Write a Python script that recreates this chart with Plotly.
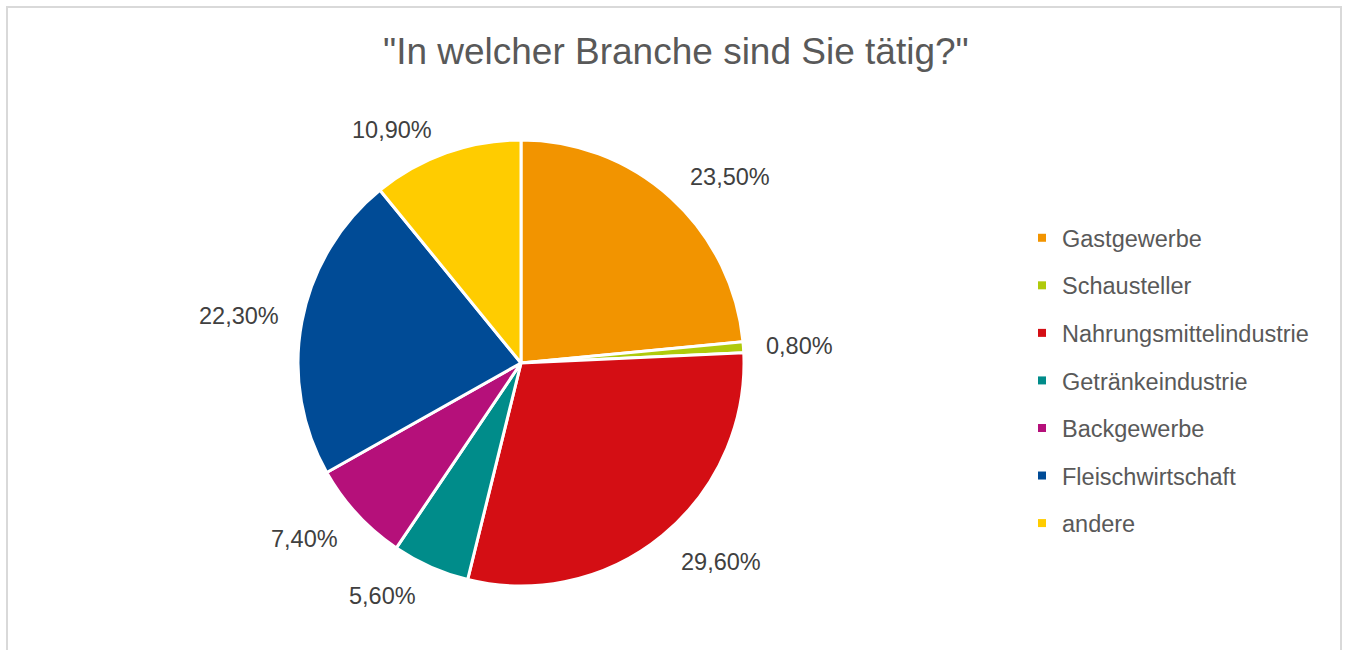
import math
import plotly.graph_objects as go

# Survey answers: share of respondents per industry (percent)
categories = ["Gastgewerbe", "Schausteller", "Nahrungsmittelindustrie",
              "Getränkeindustrie", "Backgewerbe", "Fleischwirtschaft", "andere"]
shares = [23.5, 0.8, 29.6, 5.6, 7.4, 22.3, 10.9]
colors = ["#F29400", "#AFCA0B", "#D40E14", "#008C8A", "#B5107A", "#004B96", "#FFCC00"]
title_text = '"In welcher Branche sind Sie tätig?"'

W, H = 1345, 650
FONT = "Liberation Sans, Arial, sans-serif"

# pie placement in pixels
cx, cy, r = 521, 363, 223

fig = go.Figure()
fig.add_trace(go.Pie(
    labels=categories,
    values=shares,
    marker=dict(colors=colors, line=dict(color="white", width=3)),
    sort=False,
    direction="clockwise",
    rotation=0,
    textinfo="none",
    hoverinfo="label+percent",
    showlegend=False,
    domain=dict(x=[(cx - r) / W, (cx + r) / W],
                y=[1 - (cy + r) / H, 1 - (cy - r) / H]),
))

# legend entries (one group each so the rows get extra spacing)
for name, col in zip(categories, colors):
    fig.add_trace(go.Scatter(
        x=[None], y=[None], mode="markers", name=name, legendgroup=name,
        marker=dict(symbol="square", size=8, color=col),
        showlegend=True, hoverinfo="skip",
    ))


def clip(v):
    return max(-1.0, min(1.0, v))


# data labels outside each slice, placed along the slice's mid angle
total = sum(shares)
annotations = []
acc = 0.0
R_lab = 236
for v in shares:
    mid = (acc + v / 2) / total * 2 * math.pi
    acc += v
    dx, dy = math.sin(mid), -math.cos(mid)
    txt = f"{v:.2f}".replace(".", ",") + "%"
    hw = 6.65 * len(txt)
    px = cx + R_lab * dx + (hw + 10) * clip(dx * 3)
    py = cy + R_lab * dy + 12 * clip(dy * 2) + 1 + 5 * max(dy, 0.0)
    annotations.append(dict(
        x=px / W, y=1 - py / H, xref="paper", yref="paper",
        text=txt, showarrow=False, xanchor="center", yanchor="middle",
        font=dict(family=FONT, size=23.5, color="#404040"),
    ))

annotations.append(dict(
    x=675.5 / W, y=1 - 52 / H, xref="paper", yref="paper",
    text=title_text, showarrow=False, xanchor="center", yanchor="middle",
    font=dict(family=FONT, size=37, color="#595959"),
))

fig.update_layout(
    width=W, height=H,
    margin=dict(l=0, r=0, t=0, b=0),
    paper_bgcolor="white", plot_bgcolor="white",
    xaxis=dict(visible=False), yaxis=dict(visible=False),
    annotations=annotations,
    legend=dict(
        x=1022 / W, y=1 - 216 / H, xanchor="left", yanchor="top",
        font=dict(family=FONT, size=23.5, color="#595959"),
        tracegroupgap=14, traceorder="grouped",
        bgcolor="rgba(0,0,0,0)",
    ),
    shapes=[dict(
        type="rect", xref="paper", yref="paper",
        x0=7 / W, x1=1341 / W, y0=-0.2, y1=1 - 7 / H,
        line=dict(color="#D9D9D9", width=2), fillcolor="rgba(0,0,0,0)",
    )],
)

fig.write_html("out.html")
